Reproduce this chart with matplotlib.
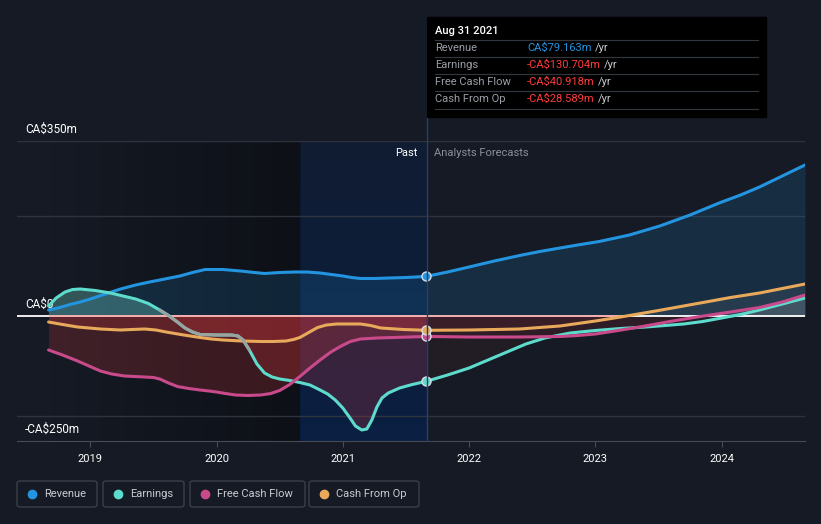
import numpy as np
import matplotlib
matplotlib.use("Agg")
import matplotlib.pyplot as plt
from matplotlib.patches import Rectangle, FancyBboxPatch
from matplotlib.lines import Line2D

plt.rcParams['font.family'] = ['Roboto', 'DejaVu Sans']

# Data (decimal years, CA$ millions)
rev_x = [2018.67, 2018.76, 2018.84, 2018.92, 2019.00, 2019.12, 2019.24, 2019.36, 2019.47, 2019.59,
         2019.71, 2019.81, 2019.91, 2020.05, 2020.19, 2020.30, 2020.38, 2020.50,
         2020.62, 2020.72, 2020.82, 2020.91, 2021.00, 2021.07, 2021.14, 2021.25, 2021.37, 2021.50, 2021.66,
         2021.83, 2022.00, 2022.20, 2022.40, 2022.56, 2022.72, 2022.86, 2023.03, 2023.27, 2023.51,
         2023.75, 2023.98, 2024.15, 2024.30, 2024.48, 2024.66]
rev_y = [12, 17, 23, 28, 34, 44, 54, 62, 68, 74,
         80, 87, 93, 93, 90, 87, 85, 87,
         88, 88, 86, 83, 80, 77, 75, 75, 76, 77, 79.163,
         88, 98, 110, 121, 129, 136, 142, 149, 162, 180,
         202, 226, 242, 258, 280, 302]

earn_x = [2018.67, 2018.73, 2018.80, 2018.86, 2018.92, 2019.04, 2019.16, 2019.26, 2019.36, 2019.46,
          2019.55, 2019.62, 2019.69, 2019.75, 2019.81, 2019.87,
          2020.00, 2020.12, 2020.17, 2020.21, 2020.26, 2020.32, 2020.38, 2020.44, 2020.50, 2020.58,
          2020.66, 2020.74, 2020.82, 2020.88, 2020.94, 2021.00, 2021.06, 2021.10, 2021.15, 2021.19,
          2021.23, 2021.27, 2021.31, 2021.36, 2021.45, 2021.55, 2021.66,
          2021.83, 2022.00, 2022.15, 2022.30, 2022.45, 2022.60, 2022.80, 2023.00, 2023.20, 2023.40,
          2023.55, 2023.70, 2023.85, 2024.00, 2024.15, 2024.30, 2024.48, 2024.66]
earn_y = [20, 36, 48, 53, 54, 51, 46, 40, 34, 25,
          12, 1, -12, -24, -32, -37,
          -38, -38, -40, -48, -68, -96, -114, -122, -126, -129,
          -133, -138, -148, -156, -168, -184, -205, -220, -228, -226,
          -208, -182, -164, -154, -144, -137, -130.704,
          -118, -104, -88, -72, -56, -44, -34, -29, -25, -22,
          -19, -16, -11, -4, 3, 12, 24, 36]

fcf_x = [2018.67, 2018.78, 2018.90, 2018.99, 2019.08, 2019.17, 2019.27, 2019.35, 2019.43, 2019.50, 2019.55,
         2019.62, 2019.69, 2019.78, 2019.87, 2019.94, 2020.00, 2020.07, 2020.15, 2020.25, 2020.35, 2020.43,
         2020.50, 2020.58, 2020.66, 2020.74, 2020.82, 2020.90, 2020.98, 2021.06, 2021.14, 2021.27, 2021.40,
         2021.53, 2021.66,
         2022.00, 2022.40, 2022.72, 2022.86, 2023.00, 2023.18, 2023.35, 2023.59, 2023.83, 2024.07, 2024.30,
         2024.48, 2024.66]
fcf_y = [-68, -78, -90, -100, -110, -116, -120, -121, -122, -123, -126,
         -134, -141, -145, -148, -150, -152, -155, -158, -159, -158, -155,
         -149, -137, -121, -104, -88, -73, -61, -51, -46, -44, -43,
         -42, -40.918,
         -42, -42, -41, -39, -36, -29, -22, -11, -1, 8, 17,
         28, 42]

cfo_x = [2018.67, 2018.78, 2018.90, 2018.99, 2019.08, 2019.16, 2019.24, 2019.33, 2019.43, 2019.52, 2019.60,
         2019.74, 2019.87, 2019.96, 2020.05, 2020.20, 2020.35, 2020.45, 2020.55, 2020.61, 2020.66, 2020.73,
         2020.80, 2020.87, 2020.95, 2021.05, 2021.14, 2021.22, 2021.30, 2021.48, 2021.66,
         2022.00, 2022.40, 2022.56, 2022.72, 2022.86, 2023.00, 2023.20, 2023.50, 2023.83, 2024.07, 2024.30,
         2024.48, 2024.66]
cfo_y = [-12, -17, -22, -24, -26, -27, -28, -27, -26, -28, -32,
         -38, -43, -46, -48, -50, -51, -51, -50, -47, -43, -33,
         -23, -18, -16, -16, -16, -19, -24, -27, -28.589,
         -28, -26, -23, -20, -15, -10, -2, 11, 26, 37, 46,
         55, 64]

years = [2019, 2020, 2021, 2022, 2023, 2024]
now = 2021.66

bg = '#151a24'
c_rev, c_earn, c_fcf, c_cfo = '#2394df', '#5ddccd', '#c94a8b', '#e8a95b'

fig = plt.figure(figsize=(8.21, 5.24), dpi=100, facecolor=bg)
ax = fig.add_axes([17/821, 83/524, 788/821, 300/524], facecolor=bg)
ax.set_xlim(2018.42, 2024.66)
ax.set_ylim(-250, 350)

# shaded backgrounds
grad = np.zeros((2, 256, 4))
grad[..., 3] = np.linspace(0.0, 0.38, 256)
ax.imshow(grad, extent=[2018.67, 2020.66, -250, 350], aspect='auto', zorder=0.5)
blue = np.zeros((256, 2, 4))
blue[..., 0], blue[..., 1], blue[..., 2] = 0.03, 0.13, 0.30
blue[..., 3] = np.linspace(0.35, 0.75, 256)[:, None]
ax.imshow(blue, extent=[2020.66, now, -250, 350], aspect='auto', zorder=0.6, origin='upper')

# grid
for g in [350, 200, -200]:
    ax.axhline(g, color='#2e333d', lw=1, zorder=1)

series = [(rev_x, rev_y, c_rev), (earn_x, earn_y, c_earn), (fcf_x, fcf_y, c_fcf), (cfo_x, cfo_y, c_cfo)]

# fills
rx, ry = np.array(rev_x), np.array(rev_y)
ax.fill_between(rx, ry, 0, color=c_rev, alpha=0.16, lw=0, zorder=2)
for xs, ys, c in series[1:]:
    xs, ys = np.array(xs), np.array(ys)
    past = xs <= now + 1e-9
    fut = xs >= now - 1e-9
    ax.fill_between(xs[past], ys[past], 0, where=ys[past] < 0, interpolate=True,
                    color='#d8383c', alpha=0.22, lw=0, zorder=2)
    ax.fill_between(xs[fut], ys[fut], 0, where=ys[fut] < 0, interpolate=True,
                    color='#d8383c', alpha=0.07, lw=0, zorder=2)
    ax.fill_between(xs, ys, 0, where=ys > 0, interpolate=True,
                    color='#c8d0d0', alpha=0.09, lw=0, zorder=2)
ex, ey = np.array(earn_x), np.array(earn_y)
m = ex < 2019.7
ax.fill_between(ex[m], ey[m], 0, where=ey[m] > 0, interpolate=True, color=c_earn, alpha=0.25, lw=0, zorder=2)

# zero line
ax.axhline(0, color='white', lw=1.3, zorder=3)
ax.hlines(0, 2018.67, 2023.2, color='#f2a8a8', lw=1.3, zorder=3)

# lines
for xs, ys, c in series:
    ax.plot(xs, ys, color=c, lw=2.2, zorder=4, solid_capstyle='round', solid_joinstyle='round')
m = (ex >= 2019.55) & (ex <= 2020.26)
ax.plot(ex[m], ey[m], color='#9aa39f', lw=2.2, zorder=4.1, solid_capstyle='round', solid_joinstyle='round')

# markers at now
for xs, ys, c in series:
    ax.plot(now, ys[xs.index(now)], 'o', ms=6.5, color=c, mec='#d8dde5', mew=1, zorder=5)

# axes styling
for s in ['top', 'right', 'left']:
    ax.spines[s].set_visible(False)
ax.spines['bottom'].set_color('#454b57')
ax.set_yticks([])
ax.set_xticks(years)
ax.set_xticklabels([str(y) for y in years])
ax.tick_params(axis='x', colors='#454b57', length=4, labelcolor='white', labelsize=8, pad=5)

ax.text(0.01, 374, 'CA$350m', transform=ax.get_yaxis_transform(), color='white', fontsize=8.5, va='center', clip_on=False)
ax.text(0.01, 24, 'CA$0', transform=ax.get_yaxis_transform(), color='white', fontsize=8.5, va='center')
ax.text(0.01, -226, '-CA$250m', transform=ax.get_yaxis_transform(), color='white', fontsize=8.5, va='center')

ax.text(2021.59, 326, 'Past', color='white', fontsize=8, ha='right', va='center', zorder=6)
ax.text(2021.72, 326, 'Analysts Forecasts', color='#8a8f98', fontsize=8, ha='left', va='center', zorder=6)

# vertical now line + tooltip
fx = lambda px: px / 821
fy = lambda py: 1 - py / 524
fig.add_artist(Line2D([fx(427), fx(427)], [fy(17), fy(441)], color='#27406a', lw=1, zorder=3))
fig.add_artist(Rectangle((fx(427), fy(117)), fx(766) - fx(427), fy(17) - fy(117), color='black', zorder=7))
fig.text(fx(435), fy(31), 'Aug 31 2021', color='white', fontsize=8, fontweight='medium', va='center', zorder=8)
rows = [('Revenue', 'CA$79.163m', c_rev), ('Earnings', '-CA$130.704m', '#ff3b3b'),
        ('Free Cash Flow', '-CA$40.918m', '#ff3b3b'), ('Cash From Op', '-CA$28.589m', '#ff3b3b')]
for i, (lab, val, col) in enumerate(rows):
    yy = 48 + 17 * i
    fig.add_artist(Line2D([fx(435), fx(758)], [fy(yy - 8), fy(yy - 8)], color='#333740', lw=0.8, zorder=8))
    fig.text(fx(435), fy(yy), lab, color='#9a9ea6', fontsize=8, va='center', zorder=8)
    t = fig.text(fx(527), fy(yy), val, color=col, fontsize=8, va='center', zorder=8)
    fig.canvas.draw()
    bb = t.get_window_extent()
    fig.text(bb.x1 / 821 + 0.004, fy(yy), '/yr', color='#c8ccd2', fontsize=8, va='center', zorder=8)
fig.add_artist(Line2D([fx(435), fx(758)], [fy(109), fy(109)], color='#333740', lw=0.8, zorder=8))

# legend
legend = [('Revenue', c_rev, 17, 97), ('Earnings', c_earn, 103, 184),
          ('Free Cash Flow', c_fcf, 190, 305), ('Cash From Op', c_cfo, 309, 419)]
for lab, col, x0, x1 in legend:
    fig.add_artist(FancyBboxPatch((fx(x0), fy(507)), fx(x1) - fx(x0), fy(481) - fy(507),
                                  boxstyle='round,pad=0,rounding_size=0.004', fc='none', ec='#3a404c', lw=1))
    fig.add_artist(Line2D([fx(x0 + 15)], [fy(494)], marker='o', ms=6, color=col, lw=0))
    fig.text(fx(x0 + 27), fy(494), lab, color='#c8ccd2', fontsize=8, va='center')

fig.savefig('out.png', dpi=100, facecolor=bg)
